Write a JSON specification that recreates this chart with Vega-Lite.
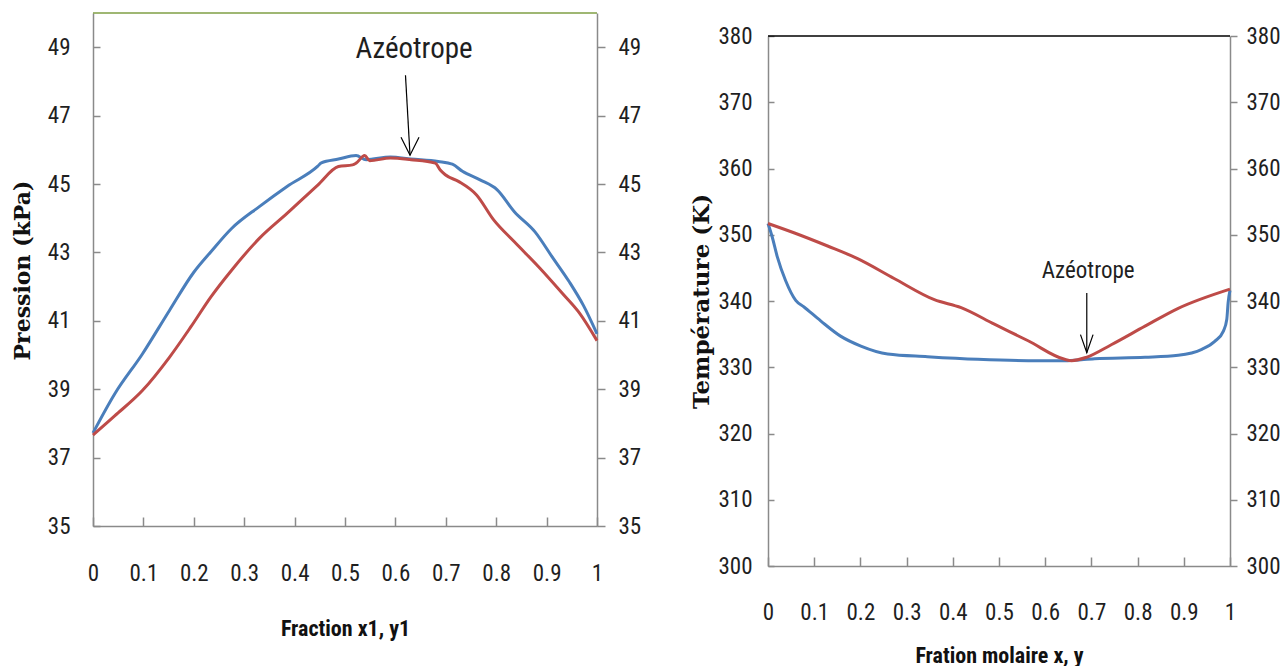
{
  "$schema": "https://vega.github.io/schema/vega-lite/v6.json",
  "background": "white",
  "padding": {"left": 11, "top": 12, "right": 0, "bottom": 0},
  "spacing": 49,
  "config": {
    "view": {"stroke": null},
    "axis": {
      "grid": false,
      "domainColor": "#8a8a8a",
      "domainWidth": 1.5,
      "tickColor": "#8a8a8a",
      "tickWidth": 1.5,
      "labelFont": "Liberation Sans Narrow, Roboto Condensed, Liberation Sans, sans-serif",
      "labelFontSize": 23,
      "labelColor": "#1f1f1f",
      "titleColor": "#111111"
    }
  },
  "datasets": {
    "pxy": [
      {"i": 0, "phase": "liquide", "x": 0.0, "P": 37.72},
      {"i": 1, "phase": "liquide", "x": 0.043, "P": 38.86},
      {"i": 2, "phase": "liquide", "x": 0.098, "P": 40.03},
      {"i": 3, "phase": "liquide", "x": 0.152, "P": 41.31},
      {"i": 4, "phase": "liquide", "x": 0.2, "P": 42.42},
      {"i": 5, "phase": "liquide", "x": 0.234, "P": 43.02},
      {"i": 6, "phase": "liquide", "x": 0.275, "P": 43.7},
      {"i": 7, "phase": "liquide", "x": 0.33, "P": 44.34},
      {"i": 8, "phase": "liquide", "x": 0.385, "P": 44.93},
      {"i": 9, "phase": "liquide", "x": 0.446, "P": 45.52},
      {"i": 10, "phase": "liquide", "x": 0.453, "P": 45.62},
      {"i": 11, "phase": "liquide", "x": 0.487, "P": 45.73},
      {"i": 12, "phase": "liquide", "x": 0.522, "P": 45.83},
      {"i": 13, "phase": "liquide", "x": 0.542, "P": 45.71},
      {"i": 14, "phase": "liquide", "x": 0.59, "P": 45.79},
      {"i": 15, "phase": "liquide", "x": 0.631, "P": 45.73},
      {"i": 16, "phase": "liquide", "x": 0.685, "P": 45.66},
      {"i": 17, "phase": "liquide", "x": 0.713, "P": 45.58},
      {"i": 18, "phase": "liquide", "x": 0.733, "P": 45.37},
      {"i": 19, "phase": "liquide", "x": 0.768, "P": 45.12},
      {"i": 20, "phase": "liquide", "x": 0.802, "P": 44.83},
      {"i": 21, "phase": "liquide", "x": 0.836, "P": 44.19},
      {"i": 22, "phase": "liquide", "x": 0.877, "P": 43.6},
      {"i": 23, "phase": "liquide", "x": 0.911, "P": 42.87},
      {"i": 24, "phase": "liquide", "x": 0.945, "P": 42.14},
      {"i": 25, "phase": "liquide", "x": 0.973, "P": 41.45},
      {"i": 26, "phase": "liquide", "x": 1.0, "P": 40.62},
      {"i": 0, "phase": "vapeur", "x": 0.0, "P": 37.66},
      {"i": 1, "phase": "vapeur", "x": 0.043, "P": 38.22},
      {"i": 2, "phase": "vapeur", "x": 0.098, "P": 38.96},
      {"i": 3, "phase": "vapeur", "x": 0.152, "P": 39.94},
      {"i": 4, "phase": "vapeur", "x": 0.194, "P": 40.82},
      {"i": 5, "phase": "vapeur", "x": 0.234, "P": 41.7},
      {"i": 6, "phase": "vapeur", "x": 0.275, "P": 42.48},
      {"i": 7, "phase": "vapeur", "x": 0.33, "P": 43.41},
      {"i": 8, "phase": "vapeur", "x": 0.385, "P": 44.14},
      {"i": 9, "phase": "vapeur", "x": 0.446, "P": 44.97},
      {"i": 10, "phase": "vapeur", "x": 0.487, "P": 45.51},
      {"i": 11, "phase": "vapeur", "x": 0.515, "P": 45.56},
      {"i": 12, "phase": "vapeur", "x": 0.522, "P": 45.61},
      {"i": 13, "phase": "vapeur", "x": 0.539, "P": 45.83},
      {"i": 14, "phase": "vapeur", "x": 0.549, "P": 45.68},
      {"i": 15, "phase": "vapeur", "x": 0.59, "P": 45.76},
      {"i": 16, "phase": "vapeur", "x": 0.631, "P": 45.71},
      {"i": 17, "phase": "vapeur", "x": 0.679, "P": 45.61},
      {"i": 18, "phase": "vapeur", "x": 0.689, "P": 45.41},
      {"i": 19, "phase": "vapeur", "x": 0.699, "P": 45.27},
      {"i": 20, "phase": "vapeur", "x": 0.726, "P": 45.07},
      {"i": 21, "phase": "vapeur", "x": 0.761, "P": 44.68},
      {"i": 22, "phase": "vapeur", "x": 0.795, "P": 43.95},
      {"i": 23, "phase": "vapeur", "x": 0.836, "P": 43.31},
      {"i": 24, "phase": "vapeur", "x": 0.884, "P": 42.58},
      {"i": 25, "phase": "vapeur", "x": 0.932, "P": 41.79},
      {"i": 26, "phase": "vapeur", "x": 0.966, "P": 41.21},
      {"i": 27, "phase": "vapeur", "x": 1.0, "P": 40.42}
    ],
    "txy": [
      {"i": 0, "phase": "liquide", "x": 0.0, "T": 351.7},
      {"i": 1, "phase": "liquide", "x": 0.009, "T": 349.7},
      {"i": 2, "phase": "liquide", "x": 0.02, "T": 346.7},
      {"i": 3, "phase": "liquide", "x": 0.038, "T": 343.1},
      {"i": 4, "phase": "liquide", "x": 0.06, "T": 340.1},
      {"i": 5, "phase": "liquide", "x": 0.078, "T": 339.1},
      {"i": 6, "phase": "liquide", "x": 0.114, "T": 337.0},
      {"i": 7, "phase": "liquide", "x": 0.157, "T": 334.7},
      {"i": 8, "phase": "liquide", "x": 0.201, "T": 333.2},
      {"i": 9, "phase": "liquide", "x": 0.259, "T": 332.0},
      {"i": 10, "phase": "liquide", "x": 0.345, "T": 331.6},
      {"i": 11, "phase": "liquide", "x": 0.454, "T": 331.2},
      {"i": 12, "phase": "liquide", "x": 0.563, "T": 331.0},
      {"i": 13, "phase": "liquide", "x": 0.649, "T": 331.0},
      {"i": 14, "phase": "liquide", "x": 0.707, "T": 331.3},
      {"i": 15, "phase": "liquide", "x": 0.816, "T": 331.5},
      {"i": 16, "phase": "liquide", "x": 0.888, "T": 331.8},
      {"i": 17, "phase": "liquide", "x": 0.939, "T": 332.7},
      {"i": 18, "phase": "liquide", "x": 0.967, "T": 333.9},
      {"i": 19, "phase": "liquide", "x": 0.986, "T": 335.5},
      {"i": 20, "phase": "liquide", "x": 0.993, "T": 337.2},
      {"i": 21, "phase": "liquide", "x": 0.996, "T": 339.8},
      {"i": 22, "phase": "liquide", "x": 1.0, "T": 341.6},
      {"i": 0, "phase": "vapeur", "x": 0.0, "T": 351.7},
      {"i": 1, "phase": "vapeur", "x": 0.056, "T": 350.3},
      {"i": 2, "phase": "vapeur", "x": 0.129, "T": 348.3},
      {"i": 3, "phase": "vapeur", "x": 0.194, "T": 346.4},
      {"i": 4, "phase": "vapeur", "x": 0.273, "T": 343.4},
      {"i": 5, "phase": "vapeur", "x": 0.36, "T": 340.2},
      {"i": 6, "phase": "vapeur", "x": 0.418, "T": 339.0},
      {"i": 7, "phase": "vapeur", "x": 0.49, "T": 336.5},
      {"i": 8, "phase": "vapeur", "x": 0.563, "T": 334.0},
      {"i": 9, "phase": "vapeur", "x": 0.642, "T": 331.2},
      {"i": 10, "phase": "vapeur", "x": 0.657, "T": 331.0},
      {"i": 11, "phase": "vapeur", "x": 0.689, "T": 331.5},
      {"i": 12, "phase": "vapeur", "x": 0.743, "T": 333.4},
      {"i": 13, "phase": "vapeur", "x": 0.816, "T": 336.2},
      {"i": 14, "phase": "vapeur", "x": 0.888, "T": 338.9},
      {"i": 15, "phase": "vapeur", "x": 1.0, "T": 341.8}
    ],
    "annotP": [{"x": 0.62, "y": 48.18, "x2": 0.629, "y2": 45.84, "tx": 0.637, "ty": 48.95, "label": "Azéotrope"}],
    "annotT": [{"x": 0.69, "y": 341.2, "x2": 0.69, "y2": 332.2, "tx": 0.693, "ty": 344.6, "label": "Azéotrope"}],
    "borderP": [{"x": 0, "x2": 1, "y": 50}],
    "borderT": [{"x": 0, "x2": 1, "y": 380}]
  },
  "hconcat": [
    {
      "width": 504,
      "height": 513,
      "layer": [
        {
          "data": {"name": "pxy"},
          "mark": {"type": "line", "strokeWidth": 3, "interpolate": "monotone"},
          "encoding": {
            "x": {"field": "x", "type": "quantitative", "scale": {"domain": [0, 1], "nice": false},
              "axis": {"values": [0, 0.1, 0.2, 0.3, 0.4, 0.5, 0.6, 0.7, 0.8, 0.9, 1], "format": "~g", "labelFlush": false, "tickSize": -9, "labelPadding": 56, "labelBaseline": "middle",
                "title": "Fraction x1, y1", "titleFont": "Liberation Sans Narrow, Roboto Condensed, Liberation Sans, sans-serif", "titleFontSize": 22, "titleFontWeight": "bold",
                "titleX": 252, "titleY": 102, "titleBaseline": "middle", "titleAlign": "center"}},
            "y": {"field": "P", "type": "quantitative", "scale": {"domain": [35, 50], "nice": false, "zero": false},
              "axis": {"orient": "left", "values": [35, 37, 39, 41, 43, 45, 47, 49], "format": "d", "tickSize": -7, "labelPadding": 30,
                "title": "Pression (kPa)", "titleFont": "DejaVu Serif", "titleFontSize": 22, "titleFontWeight": "bold",
                "titleX": -71, "titleY": 257, "titleAngle": -90, "titleBaseline": "middle", "titleAlign": "center"}},
            "color": {"field": "phase", "type": "nominal", "scale": {"domain": ["liquide", "vapeur"], "range": ["#4A7EBB", "#BE4B48"]}, "legend": null},
            "order": {"field": "i", "type": "quantitative"}
          }
        },
        {
          "data": {"name": "borderP"},
          "mark": {"type": "rule", "color": "#7F9F45", "strokeWidth": 1.5},
          "encoding": {
            "x": {"field": "x", "type": "quantitative", "axis": null},
            "x2": {"field": "x2"},
            "y": {"field": "y", "type": "quantitative",
              "axis": {"orient": "right", "values": [35, 37, 39, 41, 43, 45, 47, 49], "format": "d", "tickSize": 8, "labelPadding": 13, "title": null}}
          }
        },
        {
          "data": {"name": "annotP"},
          "mark": {"type": "rule", "color": "#000000", "strokeWidth": 1.2},
          "encoding": {
            "x": {"field": "x", "type": "quantitative", "axis": null},
            "y": {"field": "y", "type": "quantitative", "axis": null},
            "x2": {"field": "x2"},
            "y2": {"field": "y2"}
          }
        },
        {
          "data": {"name": "annotP"},
          "mark": {"type": "point", "shape": "M-0.5,-1L0,0L0.5,-1", "filled": false, "stroke": "#000000", "strokeWidth": 1.2, "size": 1296, "opacity": 1},
          "encoding": {
            "x": {"field": "x2", "type": "quantitative", "axis": null},
            "y": {"field": "y2", "type": "quantitative", "axis": null}
          }
        },
        {
          "data": {"name": "annotP"},
          "mark": {"type": "text", "font": "Liberation Sans Narrow, Roboto Condensed, Liberation Sans, sans-serif", "fontSize": 29, "color": "#1f1f1f", "baseline": "middle", "align": "center"},
          "encoding": {
            "x": {"field": "tx", "type": "quantitative", "axis": null},
            "y": {"field": "ty", "type": "quantitative", "axis": null},
            "text": {"field": "label"}
          }
        }
      ],
      "resolve": {"axis": {"x": "independent", "y": "independent"}}
    },
    {
      "spacing": 0,
      "vconcat": [
        {
          "width": 462,
          "height": 12,
          "data": {"name": "borderT"},
          "mark": {"type": "rule", "opacity": 0},
          "encoding": {}
        },
        {
          "width": 462,
          "height": 530,
          "layer": [
            {
              "data": {"name": "txy"},
              "mark": {"type": "line", "strokeWidth": 3, "interpolate": "monotone"},
              "encoding": {
                "x": {"field": "x", "type": "quantitative", "scale": {"domain": [0, 1], "nice": false},
                  "axis": {"values": [0, 0.1, 0.2, 0.3, 0.4, 0.5, 0.6, 0.7, 0.8, 0.9, 1], "format": "~g", "labelFlush": false, "tickSize": -9, "labelPadding": 55, "labelBaseline": "middle",
                    "title": "Fration molaire x, y", "titleFont": "Liberation Sans Narrow, Roboto Condensed, Liberation Sans, sans-serif", "titleFontSize": 22, "titleFontWeight": "bold",
                    "titleX": 231, "titleY": 89, "titleBaseline": "middle", "titleAlign": "center"}},
                "y": {"field": "T", "type": "quantitative", "scale": {"domain": [300, 380], "nice": false, "zero": false},
                  "axis": {"orient": "left", "values": [300, 310, 320, 330, 340, 350, 360, 370, 380], "format": "d", "tickSize": -6, "labelPadding": 22,
                    "title": "Température (K)", "titleFont": "DejaVu Serif", "titleFontSize": 23, "titleFontWeight": "bold",
                    "titleX": -67, "titleY": 265, "titleAngle": -90, "titleBaseline": "middle", "titleAlign": "center"}},
                "color": {"field": "phase", "type": "nominal", "scale": {"domain": ["liquide", "vapeur"], "range": ["#4A7EBB", "#BE4B48"]}, "legend": null},
                "order": {"field": "i", "type": "quantitative"}
              }
            },
            {
              "data": {"name": "borderT"},
              "mark": {"type": "rule", "color": "#000000", "strokeWidth": 1.5},
              "encoding": {
                "x": {"field": "x", "type": "quantitative", "axis": null},
                "x2": {"field": "x2"},
                "y": {"field": "y", "type": "quantitative",
                  "axis": {"orient": "right", "values": [300, 310, 320, 330, 340, 350, 360, 370, 380], "format": "d", "tickSize": 7, "labelPadding": 9, "title": null}}
              }
            },
            {
              "data": {"name": "annotT"},
              "mark": {"type": "rule", "color": "#000000", "strokeWidth": 1.2},
              "encoding": {
                "x": {"field": "x", "type": "quantitative", "axis": null},
                "y": {"field": "y", "type": "quantitative", "axis": null},
                "x2": {"field": "x2"},
                "y2": {"field": "y2"}
              }
            },
            {
              "data": {"name": "annotT"},
              "mark": {"type": "point", "shape": "M-0.35,-1L0,0L0.35,-1", "filled": false, "stroke": "#000000", "strokeWidth": 1.2, "size": 1296, "opacity": 1},
              "encoding": {
                "x": {"field": "x2", "type": "quantitative", "axis": null},
                "y": {"field": "y2", "type": "quantitative", "axis": null}
              }
            },
            {
              "data": {"name": "annotT"},
              "mark": {"type": "text", "font": "Liberation Sans Narrow, Roboto Condensed, Liberation Sans, sans-serif", "fontSize": 23, "color": "#1f1f1f", "baseline": "middle", "align": "center"},
              "encoding": {
                "x": {"field": "tx", "type": "quantitative", "axis": null},
                "y": {"field": "ty", "type": "quantitative", "axis": null},
                "text": {"field": "label"}
              }
            }
          ],
          "resolve": {"axis": {"x": "independent", "y": "independent"}}
        }
      ]
    }
  ]
}
